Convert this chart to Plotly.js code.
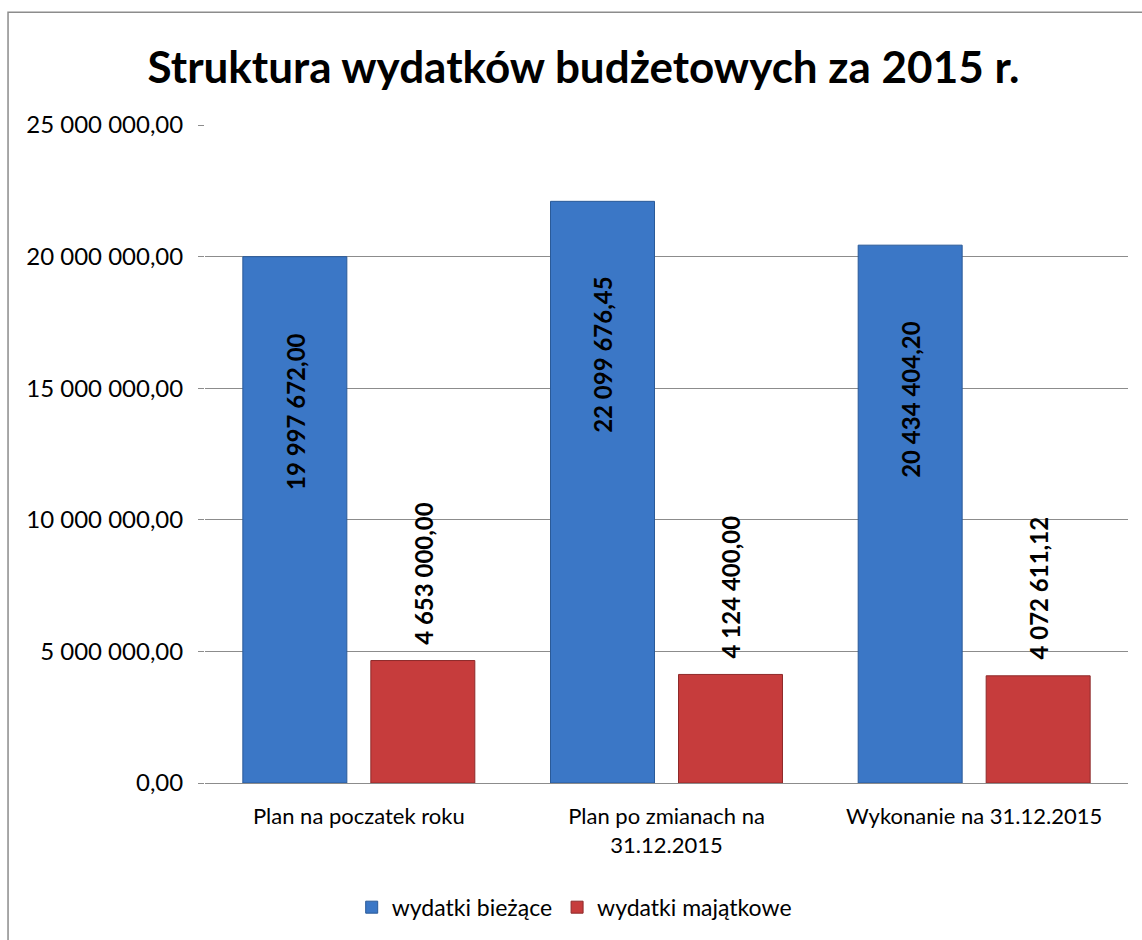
<!DOCTYPE html>
<html>
<head>
<meta charset="utf-8">
<script src="https://cdn.plot.ly/plotly-3.0.1.min.js"></script>
<style>html,body{margin:0;padding:0;background:#fff;}#chart{width:1142px;height:940px;}</style>
</head>
<body>
<div id="chart"></div>
<script>
const categories = ["Plan na poczatek roku", "Plan po zmianach na<br>31.12.2015", "Wykonanie na 31.12.2015"];
const seriesNames = ["wydatki bieżące", "wydatki majątkowe"];
const biezace = [19997672.00, 22099676.45, 20434404.20];
const majatkowe = [4653000.00, 4124400.00, 4072611.12];
const yTicks = [0, 5000000, 10000000, 15000000, 20000000, 25000000];

const FONT = "Lato, 'Open Sans', sans-serif";

function fmt(v) {
  const parts = v.toFixed(2).split(".");
  const intPart = parts[0].replace(/\B(?=(\d{3})+(?!\d))/g, " ");
  return intPart + "," + parts[1];
}

const traces = [
  {
    type: "bar", name: seriesNames[0], x: categories, y: biezace,
    marker: {color: "#3B77C6", line: {color: "#2A5A98", width: 1}},
    hoverinfo: "skip"
  },
  {
    type: "bar", name: seriesNames[1], x: categories, y: majatkowe,
    marker: {color: "#C63C3C", line: {color: "#8E2A2A", width: 1}},
    hoverinfo: "skip"
  }
];

const annotations = [];
categories.forEach((c, i) => {
  annotations.push({
    xref: "x", yref: "y", x: c, y: biezace[i], xshift: -64, yshift: -74,
    text: fmt(biezace[i]), textangle: -90, showarrow: false,
    xanchor: "center", yanchor: "top",
    font: {family: FONT, size: 24, color: "#000", weight: "bold"}
  });
  annotations.push({
    xref: "x", yref: "y", x: c, y: majatkowe[i], xshift: 64, yshift: 14,
    text: fmt(majatkowe[i]), textangle: -90, showarrow: false,
    xanchor: "center", yanchor: "bottom",
    font: {family: FONT, size: 24, color: "#000", weight: "bold"}
  });
});

const layout = {
  width: 1142, height: 940,
  paper_bgcolor: "#fff", plot_bgcolor: "#fff",
  margin: {l: 205, r: 14, t: 125, b: 156},
  font: {family: FONT, color: "#000"},
  separators: ", ",
  title: {
    text: "<b>Struktura wydatków budżetowych za 2015 r.</b>",
    x: 0.511, xref: "container", xanchor: "center",
    y: 0.928, yref: "container", yanchor: "middle",
    font: {family: FONT, size: 44, color: "#000"}
  },
  barmode: "group", bargap: 0.168, bargroupgap: 0.1875,
  xaxis: {
    type: "category", showgrid: false, showline: true, linecolor: "#8c8c8c", linewidth: 1,
    ticks: "", ticklabelstandoff: 14,
    tickfont: {family: FONT, size: 22, color: "#000"}, fixedrange: true
  },
  yaxis: {
    range: [0, 25000000], tickvals: yTicks, tickformat: ",.2f",
    showgrid: true, gridcolor: "#8c8c8c", gridwidth: 1,
    zeroline: true, zerolinecolor: "#8c8c8c", zerolinewidth: 1,
    showline: false, ticks: "outside", ticklen: 6, tickcolor: "#8c8c8c",
    ticklabelstandoff: 10,
    tickfont: {family: FONT, size: 24, color: "#000"}, fixedrange: true
  },
  showlegend: true,
  legend: {
    orientation: "h", x: 0.40, xanchor: "center", y: -0.187, yanchor: "middle",
    font: {family: FONT, size: 23, color: "#000"}, traceorder: "normal"
  },
  annotations: annotations,
  shapes: [{
    type: "rect", xref: "paper", yref: "paper", layer: "below",
    x0: -0.2134, x1: 1.1, y0: -0.4, y1: 1.1715,
    line: {color: "#8c8c8c", width: 1.5}, fillcolor: "rgba(0,0,0,0)"
  }]
};

Plotly.newPlot("chart", traces, layout, {displayModeBar: false, staticPlot: true});
</script>
</body>
</html>
